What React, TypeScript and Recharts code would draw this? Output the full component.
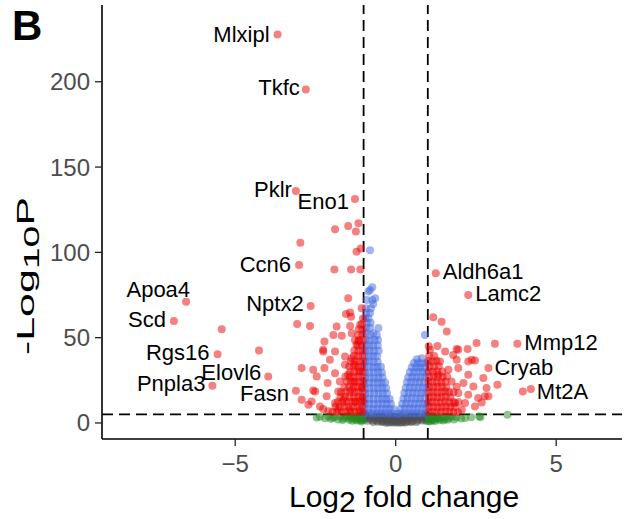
import { ScatterChart, Scatter, XAxis, YAxis, ReferenceLine } from 'recharts';

// each point is [log2 fold change, -log10 p]
type Pt = [number, number];

// significant by both p and fold change (left / right of the FC cut-off)
const sigDown: Pt[] = [
  [-1.89, 113.5], [-1.48, 115.4], [-1.24, 112.3], [-1.16, 117.0], [-2.97, 105.6], [-1.22, 100.4],
  [-1.09, 102.3], [-1.91, 90.0], [-1.39, 90.0], [-1.1, 90.0], [-1.48, 73.1], [-1.42, 64.7],
  [-1.55, 63.9], [-1.06, 67.3], [-1.39, 62.3], [-5.42, 55.0], [-4.26, 42.5], [-3.07, 58.0],
  [-2.67, 56.9], [-2.93, 32.2], [-2.57, 31.2], [-1.84, 56.5], [-1.42, 56.9], [-1.11, 57.5],
  [-1.94, 51.6], [-1.68, 51.1], [-1.37, 52.6], [-2.22, 47.7], [-1.16, 47.7], [-2.26, 41.9],
  [-1.89, 41.9], [-1.22, 45.8], [-1.58, 38.9], [-1.37, 38.0], [-2.22, 32.2], [-1.58, 34.1],
  [-1.27, 34.1], [-2.46, 27.3], [-1.89, 29.2], [-1.48, 28.2], [-1.11, 30.2], [-2.12, 23.4],
  [-1.74, 24.3], [-1.32, 24.3], [-2.51, 18.5], [-2.15, 15.6], [-1.79, 18.5], [-1.37, 19.5],
  [-1.06, 20.5], [-2.93, 13.6], [-2.72, 10.7], [-2.36, 9.7], [-1.89, 11.7], [-1.63, 13.6],
  [-1.27, 12.6], [-1.06, 13.6], [-1.79, 7.8], [-1.42, 7.8], [-1.11, 7.8], [-2.1, 6.8],
  [-2.05, 37.0], [-2.57, 19.1], [-2.62, 12.6], [-2.26, 8.2], [-2.26, 42.9],
  [-1.03, 6.5], [-1.15, 6.5], [-1.28, 6.4], [-1.41, 6.6], [-1.55, 6.5], [-1.68, 6.3], [-1.83, 6.6], [-1.97, 6.4],
  [-1.05, 9.4], [-1.19, 9.5], [-1.33, 9.3], [-1.47, 9.4], [-1.6, 9.6], [-1.74, 9.3], [-1.88, 9.5],
  [-1.02, 12.3], [-1.14, 12.4], [-1.26, 12.2], [-1.39, 12.3], [-1.52, 12.5], [-1.66, 12.2], [-1.8, 12.4],
  [-1.04, 15.2], [-1.17, 15.3], [-1.3, 15.1], [-1.44, 15.2], [-1.58, 15.4], [-1.72, 15.1],
  [-1.03, 18.1], [-1.16, 18.2], [-1.29, 18.0], [-1.42, 18.1], [-1.56, 18.3], [-1.7, 18.0],
  [-1.05, 21.2], [-1.18, 21.1], [-1.31, 21.3], [-1.45, 21.2], [-1.6, 21.0],
  [-1.02, 24.1], [-1.14, 24.2], [-1.27, 24.0], [-1.4, 24.1], [-1.53, 24.3],
  [-1.04, 27.0], [-1.17, 27.1], [-1.3, 26.9], [-1.43, 27.0], [-1.57, 27.2],
  [-1.03, 30.0], [-1.16, 30.1], [-1.29, 29.9], [-1.42, 30.0],
  [-1.05, 33.1], [-1.18, 33.0], [-1.31, 33.2], [-1.45, 33.1],
  [-1.02, 36.2], [-1.14, 36.1], [-1.27, 36.3], [-1.4, 36.2],
  [-1.04, 39.3], [-1.17, 39.2], [-1.3, 39.4],
  [-1.03, 42.4], [-1.16, 42.3], [-1.29, 42.5],
  [-1.05, 45.5], [-1.18, 45.4],
  [-1.02, 48.6], [-1.14, 48.7], [-1.27, 48.5],
  [-1.04, 51.7], [-1.17, 51.6],
  [-1.03, 54.8], [-1.15, 54.9],
  [-1.05, 58.0], [-1.02, 61.2],
];

const sigUp: Pt[] = [
  [1.17, 62.0], [1.43, 59.4], [1.59, 53.6], [1.07, 42.9], [1.54, 41.9], [1.95, 42.9],
  [2.24, 43.3], [2.52, 46.8], [3.09, 46.4], [1.38, 36.0], [1.9, 37.0], [2.26, 36.0],
  [2.47, 36.6], [1.64, 31.2], [1.95, 32.2], [1.33, 28.2], [2.26, 28.2], [2.73, 26.3],
  [1.74, 24.3], [2.11, 23.4], [2.42, 21.4], [2.83, 20.5], [3.96, 18.5], [3.17, 22.4],
  [1.54, 18.5], [1.95, 17.5], [2.26, 16.5], [2.57, 14.6], [2.78, 15.6], [2.89, 15.6],
  [1.85, 11.7], [2.16, 11.7], [2.47, 9.7], [2.68, 12.0], [2.06, 7.8], [1.9, 43.3],
  [2.37, 37.0], [1.79, 39.9],
  [1.03, 6.4], [1.15, 6.5], [1.28, 6.3], [1.41, 6.4], [1.54, 6.6], [1.67, 6.4], [1.8, 6.5], [1.94, 6.3],
  [1.05, 9.3], [1.18, 9.4], [1.31, 9.2], [1.44, 9.3], [1.57, 9.5], [1.7, 9.3], [1.84, 9.4],
  [1.02, 12.2], [1.14, 12.3], [1.27, 12.1], [1.4, 12.2], [1.53, 12.4], [1.66, 12.2], [1.8, 12.3], [1.96, 12.1],
  [1.04, 15.1], [1.17, 15.2], [1.3, 15.0], [1.43, 15.1], [1.56, 15.3], [1.7, 15.1],
  [1.03, 18.0], [1.16, 18.1], [1.29, 17.9], [1.42, 18.0], [1.66, 18.2], [1.8, 18.0],
  [1.05, 21.1], [1.18, 21.0], [1.31, 21.2], [1.44, 21.1], [1.58, 21.0], [1.9, 21.2],
  [1.02, 24.0], [1.15, 24.1], [1.28, 23.9], [1.42, 24.0], [1.55, 24.2],
  [1.04, 27.0], [1.17, 27.1], [1.3, 26.9], [1.46, 27.0], [1.6, 27.2],
  [1.03, 30.1], [1.16, 30.0], [1.29, 30.2], [1.45, 30.1],
  [1.05, 33.2], [1.19, 33.1], [1.34, 33.3],
  [1.02, 36.3], [1.15, 36.2], [1.27, 36.4],
  [1.04, 39.4], [1.2, 39.3],
  [1.03, 45.0], [1.3, 45.1],
];

// significant p but fold change within +/-1
const pOnlyDown: Pt[] = [
  [-0.98, 5.6], [-0.85, 5.7], [-0.72, 5.5], [-0.6, 5.6], [-0.47, 5.7], [-0.35, 5.5], [-0.22, 5.6], [-0.1, 5.6],
  [-0.97, 8.3], [-0.84, 8.4], [-0.7, 8.2], [-0.57, 8.3], [-0.44, 8.4], [-0.31, 8.2], [-0.19, 8.3], [-0.06, 8.1],
  [-0.96, 11.2], [-0.82, 11.3], [-0.68, 11.1], [-0.54, 11.2], [-0.41, 11.3], [-0.28, 11.1], [-0.15, 11.2],
  [-0.97, 14.1], [-0.83, 14.2], [-0.69, 14.0], [-0.55, 14.1], [-0.42, 14.2], [-0.3, 14.0], [-0.19, 14.1],
  [-0.95, 17.3], [-0.81, 17.2], [-0.67, 17.4], [-0.53, 17.3], [-0.4, 17.2], [-0.27, 17.4],
  [-0.96, 20.4], [-0.82, 20.5], [-0.68, 20.3], [-0.55, 20.4], [-0.42, 20.5], [-0.3, 20.3],
  [-0.97, 23.6], [-0.83, 23.5], [-0.69, 23.7], [-0.56, 23.6], [-0.44, 23.5], [-0.33, 23.7],
  [-0.95, 26.5], [-0.81, 26.6], [-0.67, 26.4], [-0.54, 26.5], [-0.41, 26.6],
  [-0.96, 29.7], [-0.82, 29.6], [-0.68, 29.8], [-0.55, 29.7], [-0.43, 29.6],
  [-0.97, 32.8], [-0.83, 32.9], [-0.7, 32.7], [-0.57, 32.8], [-0.46, 32.9],
  [-0.95, 35.9], [-0.82, 36.0], [-0.69, 35.8], [-0.56, 35.9],
  [-0.96, 39.1], [-0.83, 39.0], [-0.7, 39.2], [-0.58, 39.1],
  [-0.94, 42.3], [-0.81, 42.4], [-0.68, 42.2], [-0.53, 42.3],
  [-0.95, 45.4], [-0.82, 45.5], [-0.7, 45.3], [-0.56, 45.4],
  [-0.93, 48.6], [-0.8, 48.5], [-0.66, 48.7], [-0.55, 48.6],
  [-0.8, 51.6], [-0.59, 51.6], [-0.94, 52.6], [-0.7, 52.6],
  [-0.92, 55.6], [-0.54, 55.6], [-0.8, 55.7], [-0.9, 58.8], [-0.78, 58.8],
  [-0.85, 61.4], [-0.95, 61.4], [-0.92, 64.5], [-0.8, 64.5], [-0.77, 67.3], [-0.93, 67.3],
  [-0.7, 69.8], [-0.73, 72.1], [-0.9, 72.1], [-0.64, 73.1], [-0.85, 77.0], [-0.8, 78.0],
  [-0.73, 79.5], [-0.8, 101.3], [0.05, 5.3],
];

const pOnlyUp: Pt[] = [
  [0.12, 5.6], [0.25, 5.7], [0.38, 5.5], [0.51, 5.6], [0.64, 5.7], [0.77, 5.5], [0.9, 5.6],
  [0.16, 8.4], [0.29, 8.3], [0.42, 8.5], [0.55, 8.4], [0.68, 8.3], [0.81, 8.5], [0.94, 8.4],
  [0.2, 11.3], [0.33, 11.4], [0.46, 11.2], [0.59, 11.3], [0.72, 11.4], [0.85, 11.2], [0.97, 11.3],
  [0.24, 14.4], [0.37, 14.3], [0.5, 14.5], [0.63, 14.4], [0.76, 14.3], [0.89, 14.5],
  [0.27, 17.6], [0.4, 17.5], [0.53, 17.7], [0.66, 17.6], [0.79, 17.5], [0.92, 17.7],
  [0.31, 20.7], [0.44, 20.8], [0.57, 20.6], [0.7, 20.7], [0.83, 20.8], [0.96, 20.6],
  [0.35, 23.9], [0.48, 23.8], [0.61, 24.0], [0.74, 23.9], [0.87, 23.8],
  [0.39, 26.8], [0.52, 26.9], [0.65, 26.7], [0.78, 26.8], [0.91, 26.9],
  [0.44, 29.9], [0.57, 29.8], [0.7, 30.0], [0.83, 29.9], [0.96, 29.8],
  [0.5, 32.6], [0.63, 32.7], [0.76, 32.5], [0.89, 32.6],
  [0.57, 35.1], [0.7, 35.2], [0.82, 35.0], [0.95, 35.1],
  [0.81, 38.0], [0.66, 37.4], [0.91, 51.6],
];

// fold change past +/-1 but p above the cut-off
const fcOnly: Pt[] = [
  [-2.46, 3.2], [-2.36, 3.6], [-2.2, 2.8], [-2.1, 3.8], [-2.02, 2.4], [-1.9, 3.5], [-1.8, 2.1],
  [-1.72, 3.9], [-1.62, 2.6], [-1.55, 3.3], [-1.45, 1.9], [-1.38, 3.7], [-1.3, 2.5], [-1.22, 1.4],
  [-1.18, 3.5], [-1.12, 2.3], [-1.07, 0.9], [-1.04, 3.8], [-1.02, 1.8], [-1.1, 4.4], [-1.25, 4.2],
  [-1.5, 4.3], [-1.03, 2.9], [-1.08, 1.6], [-1.14, 3.1], [-1.2, 2.0], [-1.28, 3.3], [-1.35, 1.3],
  [-1.42, 2.8], [-1.66, 1.7], [-1.96, 3.1],
  [1.02, 1.2], [1.04, 3.4], [1.08, 2.2], [1.12, 4.2], [1.16, 1.5], [1.2, 3.1], [1.26, 2.3],
  [1.32, 3.9], [1.38, 1.8], [1.44, 3.0], [1.52, 2.2], [1.58, 3.8], [1.66, 2.7], [1.74, 3.6],
  [1.82, 2.0], [1.9, 3.3], [2.04, 2.6], [2.16, 2.9], [2.35, 3.4], [2.6, 4.0], [2.64, 3.3],
  [3.48, 4.8], [1.03, 2.5], [1.06, 0.8], [1.1, 3.0], [1.14, 1.9], [1.23, 1.1], [1.29, 3.4],
  [1.35, 2.6], [1.48, 1.5], [1.62, 1.9],
];

// not significant
const notSig: Pt[] = [
  [-0.9, 4.2], [-0.75, 4.1], [-0.6, 4.3], [-0.45, 4.2], [-0.3, 4.1], [-0.15, 4.2], [0.0, 3.2],
  [0.15, 4.2], [0.3, 4.1], [0.45, 4.3], [0.6, 4.2], [0.75, 4.1], [0.9, 4.2],
  [-0.95, 2.3], [-0.8, 2.4], [-0.65, 2.2], [-0.5, 2.3], [-0.35, 2.4], [-0.2, 2.2], [-0.05, 2.3],
  [0.1, 2.4], [0.25, 2.2], [0.4, 2.3], [0.55, 2.4], [0.7, 2.2], [0.85, 2.3], [0.97, 2.4],
  [-0.7, 0.6], [-0.55, 0.7], [-0.4, 0.5], [-0.25, 0.6], [-0.1, 0.7], [0.05, 0.5], [0.2, 0.6],
  [0.35, 0.7], [0.5, 0.5], [0.65, 0.6], [-0.3, 0.1], [-0.1, 0.2], [0.1, 0.1], [0.3, 0.2],
  [-0.05, 3.4], [0.08, 3.1],
  [-0.97, 3.3], [-0.88, 1.3], [-0.82, 3.2], [-0.72, 1.4], [-0.67, 3.3], [-0.58, 1.5], [-0.52, 3.2],
  [-0.42, 1.4], [-0.37, 3.3], [-0.27, 1.5], [-0.22, 3.2], [-0.12, 1.4], [-0.02, 1.3], [0.07, 1.5],
  [0.17, 3.3], [0.22, 1.4], [0.32, 3.2], [0.38, 1.5], [0.47, 3.3], [0.53, 1.3], [0.62, 3.2],
  [0.68, 1.4], [0.77, 3.3], [0.83, 1.5], [0.92, 3.2], [0.94, 1.3], [-0.93, 4.5], [0.95, 4.4],
  [-0.2, 0.3], [0.0, 0.2], [0.2, 0.3], [-0.45, 0.9], [0.45, 0.9],
];

// named genes
const geneNames = ['Mlxipl', 'Tkfc', 'Pklr', 'Eno1', 'Ccn6', 'Apoa4', 'Scd', 'Rgs16', 'Pnpla3',
  'Elovl6', 'Fasn', 'Nptx2', 'Aldh6a1', 'Lamc2', 'Mmp12', 'Cryab', 'Mt2A'];
const geneFC = [-3.68, -2.8, -3.11, -1.27, -3.01, -6.53, -6.91, -5.55, -5.71,
  -3.97, -3.11, -2.65, 1.25, 2.26, 3.79, 2.89, 4.21];
const geneP = [227.7, 195.5, 136.0, 131.3, 92.6, 71.1, 59.8, 40.3, 21.8,
  27.3, 18.9, 68.6, 87.7, 75.0, 46.4, 32.2, 19.9];

const xTicks = [-5, 0, 5];
const yTicks = [0, 50, 100, 150, 200];

// where each gene label sits relative to its point
const labelPlace: Record<string, { dx: number; dy: number; anchor: 'start' | 'end' }> = {
  Mlxipl: { dx: -8, dy: 7, anchor: 'end' },
  Tkfc: { dx: -6, dy: 6, anchor: 'end' },
  Pklr: { dx: -4, dy: 6, anchor: 'end' },
  Eno1: { dx: -6, dy: 10, anchor: 'end' },
  Ccn6: { dx: -8, dy: 7, anchor: 'end' },
  Apoa4: { dx: 4, dy: -5, anchor: 'end' },
  Scd: { dx: -8, dy: 6, anchor: 'end' },
  Rgs16: { dx: -8, dy: 6, anchor: 'end' },
  Pnpla3: { dx: -7, dy: 5, anchor: 'end' },
  Elovl6: { dx: -7, dy: 4, anchor: 'end' },
  Fasn: { dx: -7, dy: 10, anchor: 'end' },
  Nptx2: { dx: -7, dy: 5, anchor: 'end' },
  Aldh6a1: { dx: 7, dy: 6, anchor: 'start' },
  Lamc2: { dx: 7, dy: 6, anchor: 'start' },
  Mmp12: { dx: 7, dy: 6, anchor: 'start' },
  Cryab: { dx: 6, dy: 7, anchor: 'start' },
  Mt2A: { dx: 6, dy: 10, anchor: 'start' },
};

const FONT = '"Liberation Sans", Arial, sans-serif';
const toRows = (pts: Pt[]) => pts.map(([x, y]) => ({ x, y }));
const genes = geneNames.map((name, i) => ({ name, x: geneFC[i], y: geneP[i] }));

const dot = (color: string) => (props: any) => (
  <circle cx={props.cx} cy={props.cy} r={4} fill={color} fillOpacity={0.5} />
);

const labelledDot = (props: any) => {
  const p = labelPlace[props.payload.name];
  return (
    <g>
      <circle cx={props.cx} cy={props.cy} r={4} fill="#EE0000" fillOpacity={0.5} />
      <text x={props.cx + p.dx} y={props.cy + p.dy} textAnchor={p.anchor}
        fontSize={22} fontFamily={FONT} fill="#000">{props.payload.name}</text>
    </g>
  );
};

const fmtX = (v: number) => (v < 0 ? `\u2212${-v}` : `${v}`);

const cutLine = { stroke: '#000', strokeWidth: 1.8, strokeDasharray: '11 6' };

export default function App() {
  return (
    <div style={{ position: 'absolute', left: 0, top: 0, width: 634, height: 519, background: '#fff' }}>
      <ScatterChart width={634} height={519} margin={{ top: 5, right: 12, bottom: 20, left: 42 }}>
        <XAxis type="number" dataKey="x" domain={[-9.15, 7.05]} ticks={xTicks} allowDataOverflow
          tickFormatter={fmtX} height={60} tickSize={7} tickMargin={9}
          axisLine={{ stroke: '#000', strokeWidth: 1.6 }} tickLine={{ stroke: '#222', strokeWidth: 1.3 }}
          tick={{ fill: '#4D4D4D', fontSize: 24, fontFamily: FONT }}
          label={{
            content: () => (
              <text x={289} y={507} fontSize={30} fontFamily={FONT} fill="#000">
                Log<tspan dy={5}>2</tspan><tspan dy={-5}> fold change</tspan>
              </text>
            ),
          }} />
        <YAxis type="number" dataKey="y" domain={[-9.4, 245]} ticks={yTicks} allowDataOverflow
          width={60} tickSize={7} tickMargin={5}
          axisLine={{ stroke: '#000', strokeWidth: 1.6 }} tickLine={{ stroke: '#222', strokeWidth: 1.3 }}
          tick={{ fill: '#4D4D4D', fontSize: 24, fontFamily: FONT }}
          label={{
            content: () => (
              <text transform="translate(34,276) rotate(-90)" textAnchor="middle" fontSize={24}
                fontFamily={FONT} fill="#000" textLength={158} lengthAdjust="spacingAndGlyphs">
                -Log<tspan dy={5} fontSize={22}>10</tspan><tspan dy={-5}>P</tspan>
              </text>
            ),
          }} />
        <Scatter data={toRows(notSig)} shape={dot('#4D4D4D')} isAnimationActive={false} />
        <Scatter data={toRows(fcOnly)} shape={dot('#228B22')} isAnimationActive={false} />
        <Scatter data={toRows(pOnlyDown)} shape={dot('#4169E1')} isAnimationActive={false} />
        <Scatter data={toRows(pOnlyUp)} shape={dot('#4169E1')} isAnimationActive={false} />
        <Scatter data={toRows(sigDown)} shape={dot('#EE0000')} isAnimationActive={false} />
        <Scatter data={toRows(sigUp)} shape={dot('#EE0000')} isAnimationActive={false} />
        <Scatter data={genes} shape={labelledDot} isAnimationActive={false} />
        <ReferenceLine x={-1} {...cutLine} />
        <ReferenceLine x={1} {...cutLine} />
        <ReferenceLine y={5} {...cutLine} />
      </ScatterChart>
      <div style={{ position: 'absolute', left: 12, top: 4, fontFamily: FONT, fontWeight: 700, fontSize: 42, lineHeight: '44px' }}>B</div>
    </div>
  );
}
